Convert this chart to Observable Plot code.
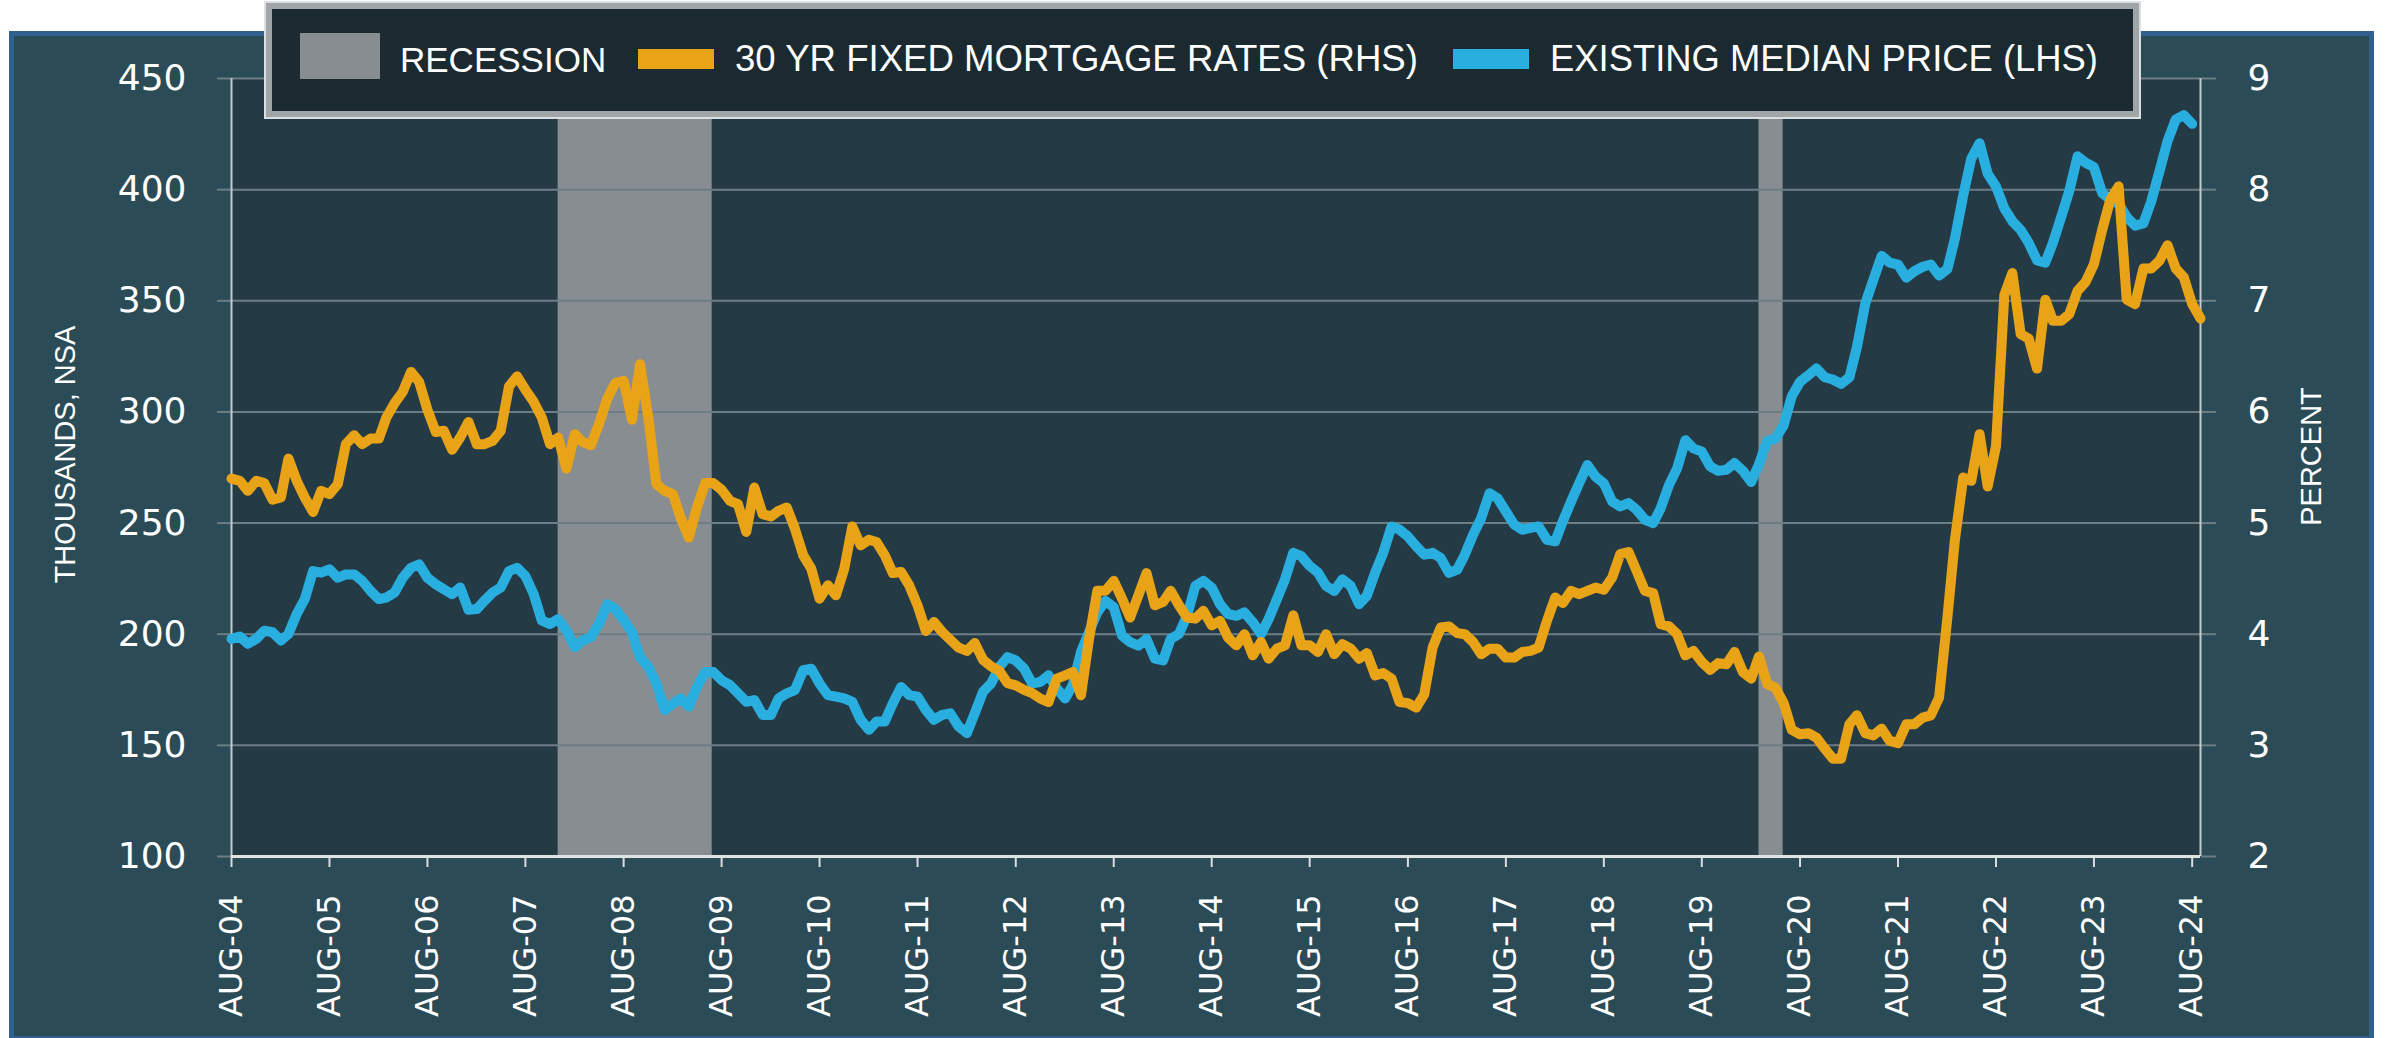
<!DOCTYPE html>
<html>
<head>
<meta charset="utf-8">
<script src="https://cdn.jsdelivr.net/npm/d3@7"></script>
<script src="https://cdn.jsdelivr.net/npm/@observablehq/plot@0.6"></script>
<style>
  html, body { margin: 0; padding: 0; background: #ffffff; }
  #wrap { position: relative; width: 2385px; height: 1038px; overflow: hidden; background: #ffffff; }
  #panel { position: absolute; left: 9px; top: 31px; width: 2365px; height: 1010px; box-sizing: border-box;
           border: 5px solid #2e6190; background: #2b4b56; }
  #chart { position: absolute; left: 0; top: 0; }
  #legend { position: absolute; left: 266px; top: 3px; width: 1873px; height: 114px; box-sizing: border-box;
            border: 6px solid #a0a5a7; box-shadow: 0 0 0 2px #dcdfe0; background: #1b2a30; }
  .sw { position: absolute; }
  .lt { position: absolute; top: 42px; font-family: "Liberation Sans", Arial, sans-serif; font-size: 35px;
        line-height: 35px; color: #ffffff; white-space: nowrap; }
</style>
</head>
<body>
<div id="wrap">
  <div id="panel"></div>
  <div id="chart"></div>
  <div id="legend"></div>
  <div class="sw" style="left:300px;top:33px;width:80px;height:46px;background:#878d90"></div>
  <div class="lt" style="left:400px">RECESSION</div>
  <div class="sw" style="left:638px;top:49px;width:76px;height:20px;background:#e8a317"></div>
  <div class="lt" style="left:735px;font-size:36.6px;top:41px">30 YR FIXED MORTGAGE RATES (RHS)</div>
  <div class="sw" style="left:1453px;top:49px;width:76px;height:20px;background:#29aee0"></div>
  <div class="lt" style="left:1550px;font-size:36.4px;top:41px">EXISTING MEDIAN PRICE (LHS)</div>
</div>
<script>
// ---------------- DATA (monthly, starting Aug 2004) ----------------
const startMonth = [2004, 7]; // Aug 2004 (UTC year, month index)

// Existing median home price, thousands USD (LHS), Aug 2004 .. Aug 2024
const medianPrice = [
  197.9,199.0,195.7,197.9,201.6,200.9,197.2,200.1,209.1,215.8,228.4,227.7,
  229.2,225.4,226.9,226.9,224.0,219.5,215.8,216.5,218.8,225.4,229.9,231.4,
  225.4,222.5,220.2,218.0,221.0,211.0,211.3,215.0,218.8,221.0,228.4,229.9,
  226.2,218.0,206.1,204.6,206.8,201.6,194.2,197.2,198.7,204.6,213.5,211.3,
  206.5,200.9,189.7,185.3,177.8,165.9,168.9,171.1,167.4,176.3,183.0,183.0,
  179.3,177.1,173.4,169.6,170.4,163.7,163.7,171.1,173.4,174.9,183.8,184.5,
  177.8,172.6,171.9,171.1,169.6,161.5,157.0,160.7,160.7,168.9,176.3,172.6,
  171.9,165.9,161.5,163.7,164.4,158.5,155.5,164.4,174.1,177.8,185.3,189.7,
  188.2,184.5,177.8,178.6,181.5,175.6,171.1,177.1,192.0,200.9,209.8,215.0,
  212.1,199.4,196.4,194.9,197.9,189.0,188.2,197.9,200.1,208.3,221.7,224.0,
  221.0,213.5,209.1,208.3,209.8,205.4,200.1,206.8,215.8,224.7,236.6,235.1,
  230.7,227.7,221.7,219.5,224.7,221.7,213.5,217.3,227.7,236.6,248.5,247.0,
  244.0,239.6,235.8,236.6,234.3,227.6,229.1,235.8,244.8,252.2,263.4,261.2,
  255.2,249.3,247.0,247.8,248.5,242.5,241.8,250.7,259.7,267.9,276.1,270.9,
  267.9,259.7,257.5,259.0,256.0,251.5,250.0,256.7,267.2,274.6,287.3,283.6,
  282.1,275.5,273.5,274.0,277.0,273.5,268.5,276.5,287.0,288.0,294.0,307.0,
  313.6,316.5,319.5,315.6,314.6,312.6,315.6,329.2,348.7,359.4,370.2,367.2,
  366.3,360.4,363.3,365.3,366.3,361.4,364.3,378.0,397.5,414.0,420.9,407.2,
  401.4,391.6,385.8,381.9,376.0,368.2,367.2,376.0,387.7,399.4,415.0,412.1,
  410.1,398.4,395.5,393.6,387.7,383.8,384.8,394.5,408.2,421.8,431.6,433.5,
  429.6
];

// 30-year fixed mortgage rate, percent (RHS), Aug 2004 .. Sep 2024
const mortgageRate = [
  5.40,5.38,5.29,5.38,5.36,5.21,5.23,5.58,5.38,5.23,5.10,5.29,
  5.26,5.35,5.71,5.79,5.71,5.76,5.76,5.95,6.08,6.18,6.36,6.27,
  6.02,5.82,5.83,5.66,5.77,5.91,5.71,5.71,5.74,5.83,6.23,6.32,
  6.20,6.09,5.95,5.71,5.77,5.49,5.80,5.73,5.70,5.89,6.12,6.26,
  6.28,5.93,6.43,5.95,5.35,5.29,5.26,5.05,4.87,5.14,5.36,5.36,
  5.30,5.20,5.17,4.92,5.32,5.08,5.06,5.11,5.14,4.95,4.71,4.59,
  4.32,4.44,4.35,4.59,4.97,4.80,4.85,4.83,4.71,4.55,4.56,4.44,
  4.26,4.03,4.11,4.02,3.95,3.88,3.85,3.92,3.77,3.71,3.67,3.56,
  3.54,3.50,3.47,3.42,3.39,3.60,3.63,3.66,3.45,3.96,4.39,4.39,
  4.48,4.32,4.15,4.35,4.55,4.26,4.29,4.39,4.26,4.15,4.14,4.21,
  4.08,4.12,3.97,3.90,4.00,3.81,3.93,3.78,3.87,3.90,4.17,3.90,
  3.90,3.84,4.00,3.82,3.91,3.87,3.78,3.83,3.63,3.65,3.60,3.39,
  3.38,3.34,3.46,3.88,4.06,4.07,4.01,4.00,3.93,3.82,3.87,3.87,
  3.79,3.79,3.84,3.85,3.88,4.12,4.33,4.28,4.39,4.36,4.39,4.42,
  4.40,4.51,4.72,4.74,4.57,4.39,4.37,4.09,4.07,4.00,3.81,3.85,
  3.75,3.68,3.74,3.73,3.84,3.66,3.60,3.80,3.55,3.52,3.38,3.14,
  3.10,3.11,3.07,2.97,2.88,2.88,3.19,3.27,3.11,3.09,3.15,3.04,
  3.02,3.19,3.19,3.25,3.27,3.43,4.15,4.85,5.41,5.38,5.80,5.33,
  5.69,7.05,7.25,6.70,6.66,6.39,7.01,6.82,6.82,6.88,7.09,7.17,
  7.33,7.64,7.91,8.03,7.01,6.97,7.29,7.29,7.36,7.50,7.29,7.21,
  6.97,6.84
];

const recessionStart = ["2007-12-01", "2020-03-01"];
const recessionEnd   = ["2009-06-27", "2020-05-30"];

const leftTicks  = [100, 150, 200, 250, 300, 350, 400, 450];
const rightTicks = [2, 3, 4, 5, 6, 7, 8, 9];
const tickYears  = ["04","05","06","07","08","09","10","11","12","13","14","15","16","17","18","19","20","21","22","23","24"];
const xDomain = ["2004-08-01", "2024-09-01"];

const leftTitle = "THOUSANDS, NSA";
const rightTitle = "PERCENT";

// ---------------- BUILD ----------------
const monthDate = i => new Date(Date.UTC(startMonth[0], startMonth[1] + i, 1));
// map right-axis percent onto the left-axis scale (2..9 -> 100..450)
const rateToLeft = r => 100 + (r - 2) * 50;
const leftToRate = v => (v - 100) / 50 + 2;

const priceRows = medianPrice.map((v, i) => ({date: monthDate(i), value: v}));
const rateRows = mortgageRate.map((v, i) => ({date: monthDate(i), value: rateToLeft(v)}));
const recessions = recessionStart.map((s, i) => ({x1: new Date(s), x2: new Date(recessionEnd[i])}));
const xTicks = tickYears.map(y => new Date(Date.UTC(2000 + (+y), 7, 1)));
const xDom = xDomain.map(d => new Date(d));
const rightTickPositions = rightTicks.map(rateToLeft);

const gridColor = "#6c7d84";
const axisColor = "#c4cacc";

const chart = Plot.plot({
  width: 2385,
  height: 1038,
  marginLeft: 231,
  marginRight: 185,
  marginTop: 78,
  marginBottom: 182,
  style: {background: "transparent", color: "#ffffff", fontFamily: "DejaVu Sans, sans-serif", overflow: "visible"},
  x: {type: "utc", domain: xDom},
  y: {domain: [100, 450]},
  marks: [
    Plot.frame({fill: "#243b46", stroke: null}),
    Plot.rect(recessions, {x1: "x1", x2: "x2", y1: 100, y2: 450, fill: "#878d90"}),
    Plot.gridY(leftTicks, {stroke: gridColor, strokeOpacity: 1, strokeWidth: 2}),
    Plot.axisY(leftTicks, {anchor: "left", tickSize: 14, tickPadding: 31, fontSize: 36,
      stroke: gridColor, strokeWidth: 2, fill: "#ffffff", label: null}),
    Plot.axisY(rightTickPositions, {anchor: "right", tickSize: 15, tickPadding: 32, fontSize: 36,
      tickFormat: d => String(leftToRate(d)), stroke: gridColor, strokeWidth: 2, fill: "#ffffff", label: null}),
    Plot.ruleX(xDom, {stroke: axisColor, strokeWidth: 2}),
    Plot.axisX(xTicks, {anchor: "bottom", tickSize: 11, tickPadding: 27, tickRotate: -90, fontSize: 32,
      tickFormat: d => "AUG-" + String(d.getUTCFullYear()).slice(2),
      stroke: "#d9dddf", strokeWidth: 2, fill: "#ffffff", label: null}),
    Plot.ruleY([100], {stroke: "#dfe3e4", strokeWidth: 3}),
    Plot.line(priceRows, {x: "date", y: "value", stroke: "#29aee0", strokeWidth: 10,
      strokeLinejoin: "round", strokeLinecap: "round"}),
    Plot.line(rateRows, {x: "date", y: "value", stroke: "#e8a317", strokeWidth: 10,
      strokeLinejoin: "round", strokeLinecap: "round"}),
    Plot.text([leftTitle], {frameAnchor: "left", dx: -166, dy: -13, rotate: -90, textAnchor: "middle",
      fontSize: 29, fontFamily: "Liberation Sans, Arial, sans-serif", fill: "#ffffff"}),
    Plot.text([rightTitle], {frameAnchor: "right", dx: 111, dy: -11, rotate: -90, textAnchor: "middle",
      fontSize: 29, fontFamily: "Liberation Sans, Arial, sans-serif", fill: "#ffffff"})
  ]
});
document.getElementById("chart").appendChild(chart);
</script>
</body>
</html>
